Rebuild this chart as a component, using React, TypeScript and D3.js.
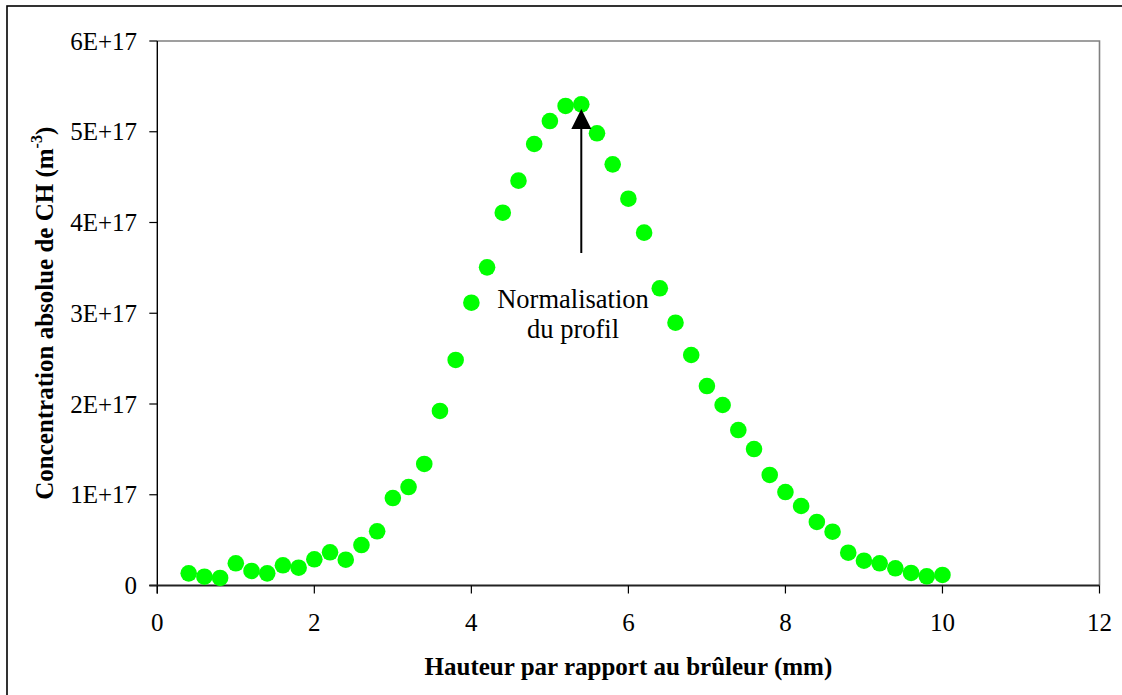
import { useEffect, useRef } from "react";
import * as d3 from "d3";

// hauteur (mm)
const heights = [
  0.4, 0.6, 0.8, 1.0, 1.2, 1.4, 1.6, 1.8, 2.0, 2.2, 2.4, 2.6, 2.8, 3.0, 3.2, 3.4,
  3.6, 3.8, 4.0, 4.2, 4.4, 4.6, 4.8, 5.0, 5.2, 5.4, 5.6, 5.8, 6.0, 6.2, 6.4, 6.6,
  6.8, 7.0, 7.2, 7.4, 7.6, 7.8, 8.0, 8.2, 8.4, 8.6, 8.8, 9.0, 9.2, 9.4, 9.6, 9.8,
  10.0,
];

// concentration CH, en unités de 1E+17 m-3
const concentrations = [
  0.134, 0.097, 0.083, 0.245, 0.16, 0.134, 0.223, 0.196, 0.289, 0.366, 0.284,
  0.446, 0.597, 0.964, 1.085, 1.339, 1.923, 2.485, 3.116, 3.506, 4.108, 4.461,
  4.865, 5.118, 5.284, 5.302, 4.983, 4.641, 4.262, 3.888, 3.275, 2.896, 2.54,
  2.198, 1.989, 1.713, 1.504, 1.218, 1.03, 0.876, 0.7, 0.593, 0.361, 0.273,
  0.245, 0.19, 0.138, 0.101, 0.116,
];

const xTicks = [0, 2, 4, 6, 8, 10, 12];
const yTicks = [0, 1, 2, 3, 4, 5, 6];
const yTickLabels = ["0", "1E+17", "2E+17", "3E+17", "4E+17", "5E+17", "6E+17"];

// flèche : x = 5.4 mm, du bas vers le pic
const arrowX = 5.4;
const arrowFrom = 3.664;
const arrowTo = 5.25;

const W = 1122;
const H = 695;
const FONT = "'Liberation Serif', 'Times New Roman', serif";

export default function App() {
  const ref = useRef<SVGSVGElement | null>(null);

  useEffect(() => {
    const svg = d3.select(ref.current);
    svg.selectAll("*").remove();

    const left = 157.3;
    const right = 1099.5;
    const top = 41;
    const bottom = 585.5;

    const x = d3.scaleLinear().domain([0, 12]).range([left, right]);
    const y = d3.scaleLinear().domain([0, 6]).range([bottom, top]);

    svg.append("rect").attr("width", W).attr("height", H).attr("fill", "#fff");

    // cadre extérieur
    svg
      .append("rect")
      .attr("x", 7)
      .attr("y", 6)
      .attr("width", W + 20)
      .attr("height", H + 20)
      .attr("fill", "none")
      .attr("stroke", "#000")
      .attr("stroke-width", 1.6);

    // bord haut et droit de la zone de tracé
    svg
      .append("path")
      .attr("d", `M${left},${top}H${right}V${bottom}`)
      .attr("fill", "none")
      .attr("stroke", "#808080")
      .attr("stroke-width", 1.6);

    // axe Y
    svg
      .append("line")
      .attr("x1", left)
      .attr("x2", left)
      .attr("y1", top)
      .attr("y2", bottom + 8)
      .attr("stroke", "#000")
      .attr("stroke-width", 1.4);

    svg
      .append("g")
      .selectAll("line")
      .data(yTicks)
      .join("line")
      .attr("x1", left - 8)
      .attr("x2", left)
      .attr("y1", (d) => y(d))
      .attr("y2", (d) => y(d))
      .attr("stroke", "#000")
      .attr("stroke-width", 1.2);

    svg
      .append("g")
      .selectAll("text")
      .data(yTicks)
      .join("text")
      .attr("x", 137)
      .attr("y", (d) => y(d) + 8.5)
      .attr("text-anchor", "end")
      .attr("font-family", FONT)
      .attr("font-size", 25)
      .attr("fill", "#000")
      .text((d, i) => yTickLabels[i]);

    // axe X
    svg
      .append("line")
      .attr("x1", left - 8)
      .attr("x2", right)
      .attr("y1", bottom)
      .attr("y2", bottom)
      .attr("stroke", "#222")
      .attr("stroke-width", 2);

    svg
      .append("g")
      .selectAll("line")
      .data(xTicks)
      .join("line")
      .attr("x1", (d) => x(d))
      .attr("x2", (d) => x(d))
      .attr("y1", bottom)
      .attr("y2", bottom + 8)
      .attr("stroke", "#000")
      .attr("stroke-width", 1.2);

    svg
      .append("g")
      .selectAll("text")
      .data(xTicks)
      .join("text")
      .attr("x", (d) => x(d))
      .attr("y", 631)
      .attr("text-anchor", "middle")
      .attr("font-family", FONT)
      .attr("font-size", 25)
      .attr("fill", "#000")
      .text((d) => String(d));

    // titres des axes
    svg
      .append("text")
      .attr("x", (left + right) / 2)
      .attr("y", 675)
      .attr("text-anchor", "middle")
      .attr("font-family", FONT)
      .attr("font-weight", 700)
      .attr("font-size", 25)
      .attr("fill", "#000")
      .text("Hauteur par rapport au brûleur (mm)");

    const yTitle = svg
      .append("text")
      .attr("transform", `translate(53,${(top + bottom) / 2}) rotate(-90)`)
      .attr("text-anchor", "middle")
      .attr("font-family", FONT)
      .attr("font-weight", 700)
      .attr("font-size", 25)
      .attr("fill", "#000");
    yTitle.append("tspan").text("Concentration absolue de CH (m");
    yTitle.append("tspan").attr("font-size", 16).attr("dy", -11).text("-3");
    yTitle.append("tspan").attr("dy", 11).text(")");

    // points
    svg
      .append("g")
      .selectAll("circle")
      .data(heights)
      .join("circle")
      .attr("cx", (d) => x(d))
      .attr("cy", (d, i) => y(concentrations[i]))
      .attr("r", 8.3)
      .attr("fill", "#00ff00");

    // flèche d'annotation
    const ax = x(arrowX);
    const tipY = y(arrowTo);
    svg
      .append("line")
      .attr("x1", ax)
      .attr("x2", ax)
      .attr("y1", y(arrowFrom))
      .attr("y2", tipY + 18)
      .attr("stroke", "#000")
      .attr("stroke-width", 2);
    svg
      .append("path")
      .attr("d", `M${ax},${tipY}L${ax - 10},${tipY + 20}L${ax + 10},${tipY + 20}Z`)
      .attr("fill", "#000");

    svg
      .append("text")
      .attr("x", 573)
      .attr("y", 308)
      .attr("text-anchor", "middle")
      .attr("font-family", FONT)
      .attr("font-size", 26.5)
      .attr("fill", "#000")
      .text("Normalisation");
    svg
      .append("text")
      .attr("x", 573)
      .attr("y", 338)
      .attr("text-anchor", "middle")
      .attr("font-family", FONT)
      .attr("font-size", 26.5)
      .attr("fill", "#000")
      .text("du profil");
  }, []);

  return (
    <svg
      ref={ref}
      width={W}
      height={H}
      style={{ position: "absolute", left: 0, top: 0, display: "block" }}
    />
  );
}
